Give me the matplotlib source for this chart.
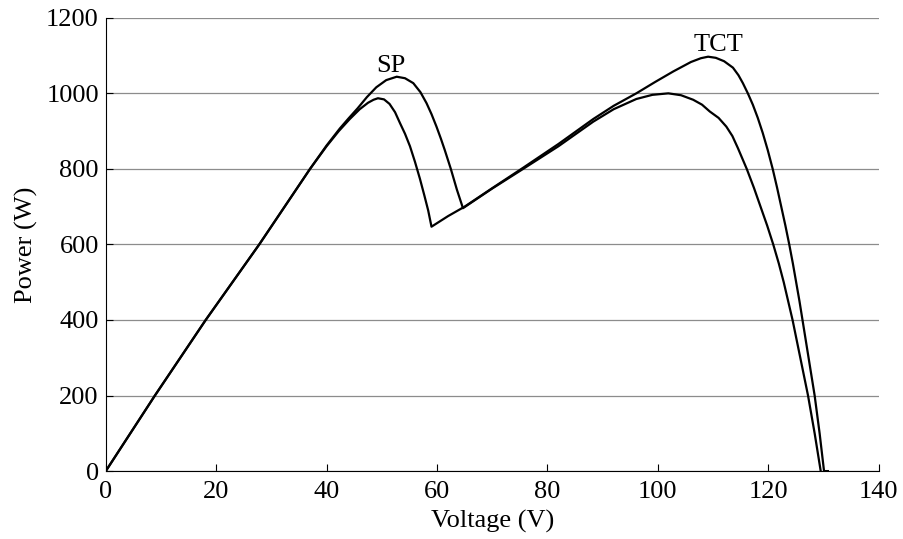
import numpy as np
import matplotlib.pyplot as plt

# P-V curves (V in volts, P in watts)
v_tct = [0, 8.9, 18.1, 27.8, 37.0, 40.0, 42.2, 44.2, 46.0, 47.5, 48.5, 49.3, 50.4,
         51.4, 52.4, 53.3, 54.2, 55.1, 56.0, 56.9, 57.7, 58.4, 59.0, 62.0, 65.0,
         70.0, 75.6, 82.0, 88.3, 92.0, 96.1, 99.5, 102.8, 106.0, 107.8, 109.1,
         110.5, 112.0, 113.6, 114.6, 115.4, 116.3, 117.2, 118.1, 119.0, 119.9,
         120.8, 121.6, 122.35, 123.1, 123.8, 124.45, 125.05, 125.65, 126.2, 127.3,
         128.4, 129.3, 130.1, 130.8]
p_tct = [0, 200, 400, 600, 800, 860, 900, 932, 958, 975, 983, 987, 984,
         972, 950, 921, 893, 860, 819, 774, 730, 690, 647, 675, 700,
         749, 803, 866, 932, 967, 1000, 1030, 1058, 1083, 1093, 1097,
         1094, 1085, 1068, 1048, 1027, 1000, 970, 935, 895, 850,
         800, 750, 700, 650, 600, 550, 500, 450, 400, 300,
         200, 100, 0, 0]

v_sp = [0, 8.9, 18.1, 27.8, 37.0, 40.0, 42.4, 44.0, 45.6, 47.3, 49.0, 50.8, 52.7,
        54.2, 55.7, 57.0, 58.1, 59.0, 59.9, 60.7, 61.4, 62.5, 63.6, 64.7, 70.0,
        75.6, 82.0, 88.3, 92.0, 96.1, 99.0, 101.9, 104.2, 106.4, 108.0, 109.4,
        111.0, 112.4, 113.5, 114.5, 116.1, 117.4, 118.6, 119.8, 120.9, 121.9,
        122.8, 123.6, 124.4, 125.8, 127.2, 128.4, 129.5]
p_sp = [0, 200, 400, 600, 800, 862, 907, 934, 960, 990, 1016, 1035, 1044,
        1040, 1027, 1003, 974, 945, 912, 880, 850, 800, 745, 696, 748,
        800, 860, 925, 958, 985, 996, 1000, 995, 983, 970, 952,
        935, 912, 887, 855, 800, 750, 700, 650, 600, 550,
        500, 450, 400, 300, 200, 100, 0]

labels = ["SP", "TCT"]
label_pos = [(51.7, 1072), (110.9, 1127)]

plt.rcParams['font.family'] = ['Liberation Serif', 'DejaVu Serif']
plt.rcParams['font.size'] = 19

fig = plt.figure(figsize=(9.04, 5.39), dpi=100)
ax = fig.add_axes([0.117, 0.126, 0.855, 0.841])

ax.plot(v_tct, p_tct, color='black', lw=1.6)
ax.plot(v_sp, p_sp, color='black', lw=1.6)

for txt, (x, y) in zip(labels, label_pos):
    ax.text(x, y, txt, ha='center', va='center')

ax.set_xlim(0, 140)
ax.set_ylim(0, 1200)
ax.set_xticks(np.arange(0, 141, 20))
ax.set_yticks(np.arange(0, 1201, 200))
ax.yaxis.grid(True, color='0.55', lw=0.9)
ax.set_axisbelow(True)
ax.spines['top'].set_visible(False)
ax.spines['right'].set_visible(False)
ax.tick_params(direction='in', length=5, width=0.8, pad=5)
ax.tick_params(axis='x', pad=7)

ax.set_xlabel("Voltage (V)", labelpad=5)
ax.set_ylabel("Power (W)", labelpad=6)

fig.savefig("out.png", dpi=100)
